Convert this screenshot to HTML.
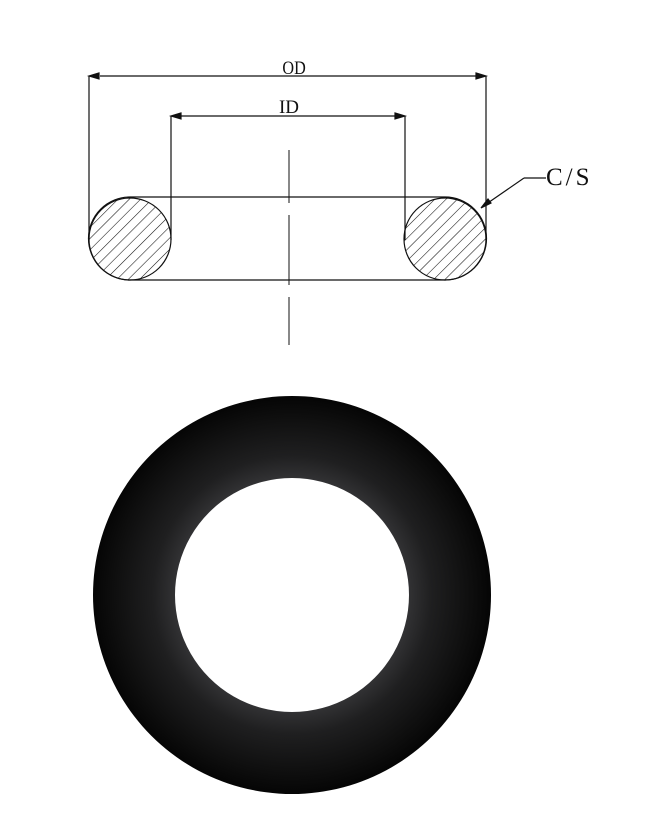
<!DOCTYPE html>
<html><head><meta charset="utf-8"><style>
html,body{margin:0;padding:0;background:#fff;}
svg{display:block;}
</style></head><body>
<svg width="656" height="815" viewBox="0 0 656 815" xmlns="http://www.w3.org/2000/svg">
<defs>
<pattern id="h" patternUnits="userSpaceOnUse" width="8" height="8" patternTransform="rotate(45)">
<line x1="0" y1="0" x2="0" y2="8" stroke="#111" stroke-width="1.1"/>
</pattern>
<radialGradient id="g" cx="292" cy="595" r="199" gradientUnits="userSpaceOnUse">
<stop offset="0.58" stop-color="#333335"/>
<stop offset="0.7" stop-color="#1f1f20"/>
<stop offset="0.9" stop-color="#0e0e0e"/>
<stop offset="1" stop-color="#050505"/>
</radialGradient>
</defs>
<g stroke="#111" stroke-width="1.2" fill="none">
<line x1="89" y1="76" x2="89" y2="240"/>
<line x1="486" y1="76" x2="486" y2="240"/>
<line x1="100" y1="76" x2="476" y2="76"/>
<path d="M99,73 L89,76 L99,79 Z" fill="#111"/>
<path d="M476,73 L486,76 L476,79 Z" fill="#111"/>
<line x1="171" y1="116" x2="171" y2="240"/>
<line x1="405" y1="116" x2="405" y2="240"/>
<line x1="181" y1="116" x2="395" y2="116"/>
<path d="M181,113 L171,116 L181,119 Z" fill="#111"/>
<path d="M395,113 L405,116 L395,119 Z" fill="#111"/>
<path d="M130,197 L445,197 A41.5,41.5 0 0 1 445,280 L130,280 A41.5,41.5 0 0 1 130,197 Z"/>
<circle cx="130" cy="239" r="41" fill="url(#h)"/>
<circle cx="445" cy="239" r="41" fill="url(#h)"/>
<line x1="289" y1="150" x2="289" y2="203" stroke-width="1"/>
<line x1="289" y1="215" x2="289" y2="285" stroke-width="1"/>
<line x1="289" y1="297" x2="289" y2="345" stroke-width="1"/>
<line x1="524" y1="178" x2="546" y2="178"/>
<line x1="524" y1="178" x2="482" y2="207"/>
<path d="M481,208 L488,199 L491,203 Z" fill="#111"/>
</g>
<g font-family="Liberation Serif, serif" fill="#111">
<text x="294" y="74" font-size="19" text-anchor="middle" transform="scale(0.85,1) translate(52,0)">OD</text>
<text x="289" y="113" font-size="19" text-anchor="middle">ID</text>
<text x="546" y="185" font-size="25" letter-spacing="3">C/S</text>
</g>
<path fill-rule="evenodd" fill="url(#g)" d="M292,396 A199,199 0 1 0 292.01,396 Z M292,478 A117,117 0 1 1 291.99,478 Z"/>
</svg>
</body></html>
